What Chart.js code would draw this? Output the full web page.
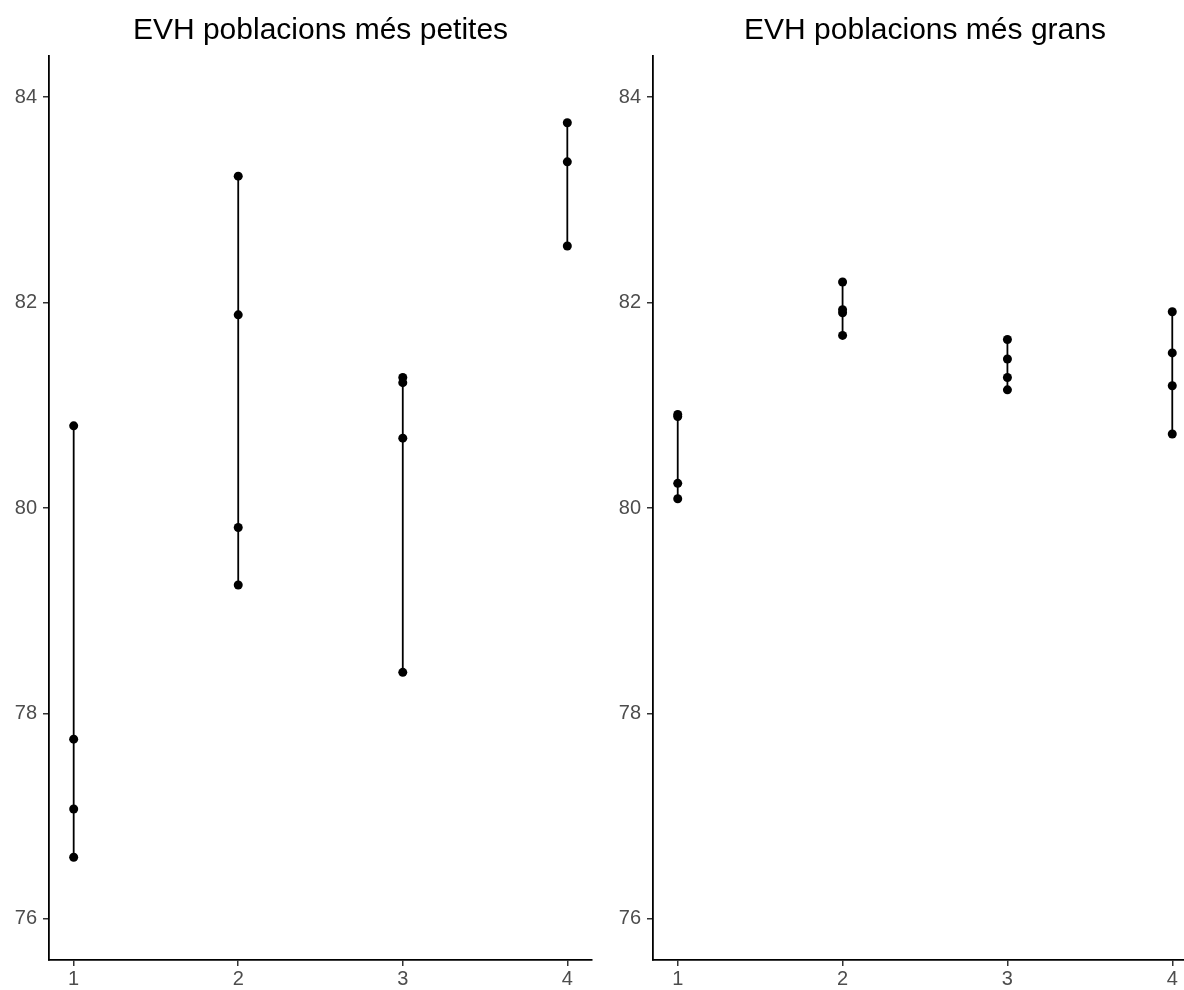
<!DOCTYPE html>
<html lang="ca">
<head>
    <meta charset="utf-8">
    <title>EVH poblacions</title>
    <script src="https://cdn.jsdelivr.net/npm/chart.js@4.4.1/dist/chart.umd.min.js"></script>
    <style>
        * { margin: 0; padding: 0; box-sizing: border-box; }
        body {
            width: 1184px;
            height: 990px;
            overflow: hidden;
            background: #ffffff;
            position: relative;
        }
        #left { position: absolute; left: 0; top: 0; }
        #right { position: absolute; left: 600px; top: 0; }
    </style>
</head>
<body>
    <canvas id="left" width="600" height="990"></canvas>
    <canvas id="right" width="605" height="990"></canvas>

    <script>
        // grups (eix x)
        const groups = [1, 2, 3, 4];
        const yTicks = [76, 78, 80, 82, 84];

        // esperança de vida, poblacions més petites
        const smallG1 = [80.80, 77.75, 77.07, 76.60];
        const smallG2 = [83.23, 81.88, 79.81, 79.25];
        const smallG3 = [81.27, 81.22, 80.68, 78.40];
        const smallG4 = [83.75, 83.37, 82.55];

        // esperança de vida, poblacions més grans
        const bigG1 = [80.91, 80.89, 80.24, 80.09];
        const bigG2 = [82.20, 81.93, 81.90, 81.68];
        const bigG3 = [81.64, 81.45, 81.27, 81.15];
        const bigG4 = [81.91, 81.51, 81.19, 80.72];

        const font = "'Liberation Sans', Arial, sans-serif";

        // one dataset per group: points joined by a vertical line
        const makeDatasets = (series) => series.map((vals, i) => ({
            data: vals.map(v => ({ x: groups[i], y: v })),
            showLine: true,
            borderColor: "#000000",
            borderWidth: 1.8,
            pointRadius: 4.5,
            pointBackgroundColor: "#000000",
            pointBorderWidth: 0,
        }));

        const makeChart = (canvas, title, series, yWidth) => new Chart(canvas, {
            type: "scatter",
            data: { datasets: makeDatasets(series) },
            options: {
                responsive: false,
                animation: false,
                layout: { padding: { left: 0, right: 8, top: 0, bottom: 0 } },
                plugins: {
                    legend: { display: false },
                    tooltip: { enabled: false },
                    title: {
                        display: true,
                        text: title,
                        fullSize: false,
                        color: "#000000",
                        font: { family: font, size: 30, weight: "normal" },
                        padding: { top: 13, bottom: 7 },
                    },
                },
                scales: {
                    x: {
                        type: "linear",
                        min: 0.85,
                        max: 4.15,
                        afterBuildTicks: (scale) => {
                            scale.ticks = groups.map(v => ({ value: v }));
                        },
                        afterFit: (scale) => { scale.height = 30; },
                        border: { display: true, color: "#000000", width: 1.8 },
                        grid: { drawOnChartArea: false, color: "#333333", lineWidth: 1.5, tickLength: 6 },
                        ticks: { color: "#4d4d4d", padding: 1, font: { family: font, size: 20 } },
                    },
                    y: {
                        min: 75.6,
                        max: 84.4,
                        afterBuildTicks: (scale) => {
                            scale.ticks = yTicks.map(v => ({ value: v }));
                        },
                        afterFit: (scale) => { scale.width = yWidth; },
                        border: { display: true, color: "#000000", width: 1.8 },
                        grid: { drawOnChartArea: false, color: "#333333", lineWidth: 1.5, tickLength: 6 },
                        ticks: { color: "#4d4d4d", padding: 6, font: { family: font, size: 20 } },
                    },
                },
            },
        });

        makeChart(document.getElementById("left"), "EVH poblacions més petites",
            [smallG1, smallG2, smallG3, smallG4], 49);
        makeChart(document.getElementById("right"), "EVH poblacions més grans",
            [bigG1, bigG2, bigG3, bigG4], 53);
    </script>
</body>
</html>
